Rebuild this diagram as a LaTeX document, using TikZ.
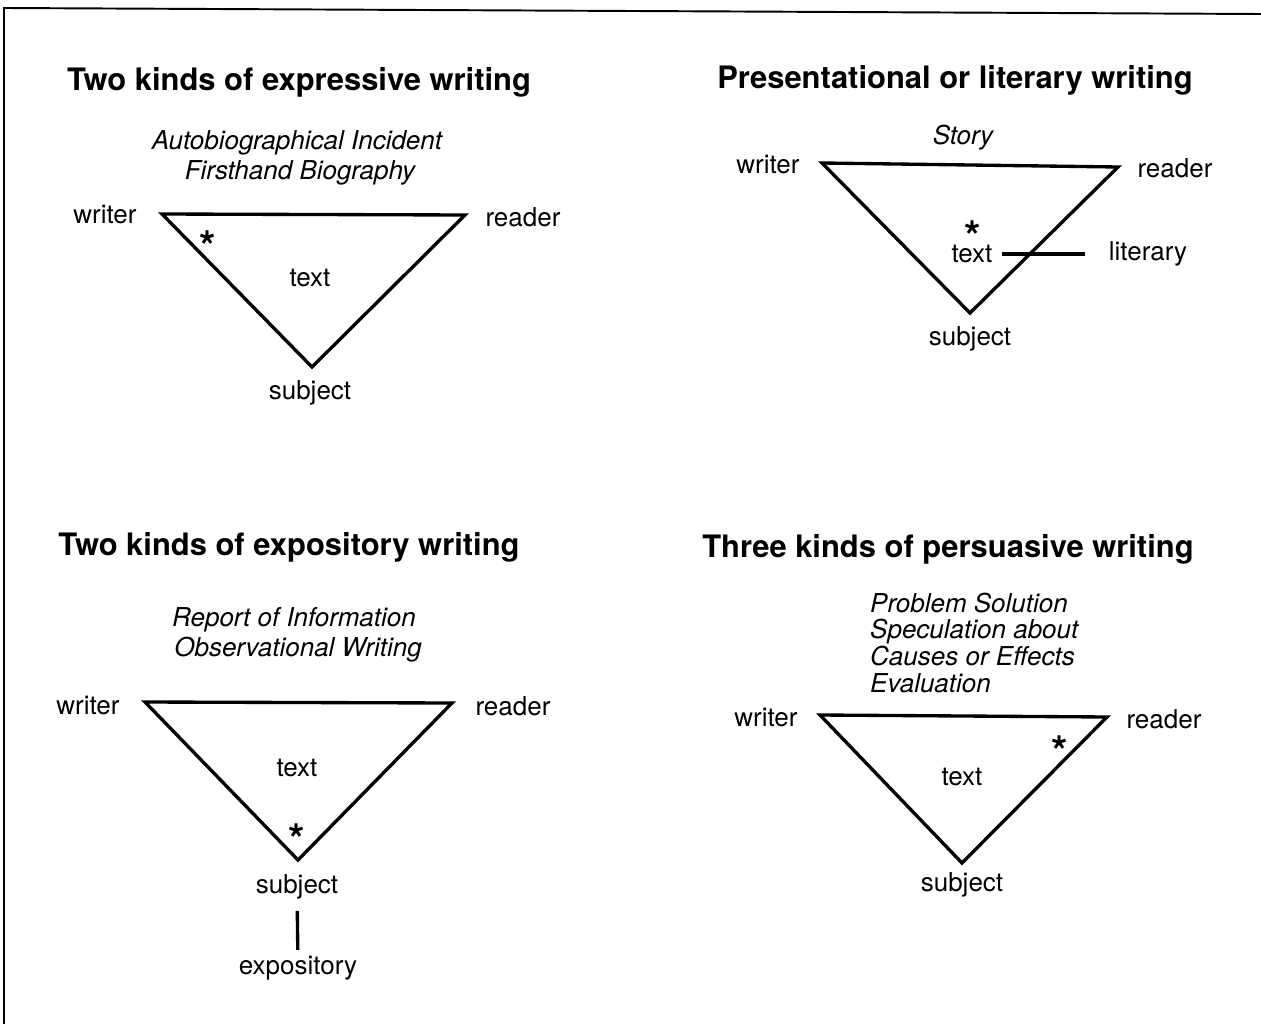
\documentclass[tikz,border=0pt]{standalone}
\usepackage{fontspec}
\setmainfont{TeX Gyre Heros}
\newcommand{\starmark}{\raisebox{-0.43em}[0.3em][0pt]{*}}
\begin{document}
\begin{tikzpicture}[x=0.02cm, y=-0.02cm,
    lbl/.style={font=\fontsize{14.8}{17}\selectfont},
    ital/.style={font=\itshape\fontsize{14.8}{17}\selectfont},
    ttl/.style={font=\bfseries\fontsize{17.6}{20}\selectfont},
    star/.style={font=\bfseries\fontsize{24}{24}\selectfont, inner sep=0pt},
    tri/.style={line width=1.9pt, line join=miter},
    conn/.style={line width=1.9pt}]
    \useasboundingbox (0,0) rectangle (1261,1024);
    % frame
    \draw[line width=1.1pt] (4,1024) -- (4,8) -- (1261,14);

    % expressive
    \node[ttl] (title1) at (299,82) {Two kinds of expressive writing};
    \node[ital] (kindA1) at (297,143) {Autobiographical Incident};
    \node[ital] (kindB1) at (300,173) {Firsthand Biography};
    \coordinate (w1) at (162,214); \coordinate (r1) at (465,215); \coordinate (s1) at (312,367);
    \draw[tri] (w1) -- (r1) -- (s1) -- cycle;
    \node[lbl] (writer1) at (105,215) {writer};
    \node[lbl] (reader1) at (523,217) {reader};
    \node[star] (star1) at (208,237) {\starmark};
    \node[lbl] (text1) at (310,278) {text};
    \node[lbl] (subject1) at (310,393) {subject};

    % literary
    \node[ttl] (title2) at (955,80) {Presentational or literary writing};
    \node[ital] (kind2) at (963,138) {Story};
    \coordinate (w2) at (822,163); \coordinate (r2) at (1118,167); \coordinate (s2) at (970,313);
    \draw[tri] (w2) -- (r2) -- (s2) -- cycle;
    \node[lbl] (writer2) at (768,165) {writer};
    \node[lbl] (reader2) at (1175,168) {reader};
    \node[star] (star2) at (973,227) {\starmark};
    \node[lbl] (text2) at (972,254) {text};
    \node[lbl] (lit2) at (1148,254) {literary};
    \node[lbl] (subject2) at (970,339) {subject};
    \draw[conn, shorten <=2pt, shorten >=10pt] (text2.east) -- (lit2.west);

    % expository
    \node[ttl] (title3) at (289,547) {Two kinds of expository writing};
    \node[ital] (kindA3) at (294,620) {Report of Information};
    \node[ital] (kindB3) at (298,650) {Observational Writing};
    \coordinate (w3) at (145,702); \coordinate (r3) at (452,703); \coordinate (s3) at (298,860);
    \draw[tri] (w3) -- (r3) -- (s3) -- cycle;
    \node[lbl] (writer3) at (88,705) {writer};
    \node[lbl] (reader3) at (513,706) {reader};
    \node[lbl] (text3) at (297,768) {text};
    \node[star] (star3) at (297,830) {\starmark};
    \node[lbl] (subject3) at (297,887) {subject};
    \node[lbl] (expo3) at (298,968) {expository};
    \draw[conn, shorten <=3pt] (subject3) -- (expo3);

    % persuasive
    \node[ttl] (title4) at (948,549) {Three kinds of persuasive writing};
    \node[ital, anchor=base west] (kindA4) at (864,612) {Problem Solution};
    \node[ital, anchor=base west] (kindB4) at (864,638) {Speculation about};
    \node[ital, anchor=base west] (kindC4) at (864,665) {Causes or Effects};
    \node[ital, anchor=base west] (kindD4) at (864,692) {Evaluation};
    \coordinate (w4) at (820,715); \coordinate (r4) at (1107,717); \coordinate (s4) at (962,863);
    \draw[tri] (w4) -- (r4) -- (s4) -- cycle;
    \node[lbl] (writer4) at (766,717) {writer};
    \node[lbl] (reader4) at (1164,719) {reader};
    \node[star] (star4) at (1060,742) {\starmark};
    \node[lbl] (text4) at (962,777) {text};
    \node[lbl] (subject4) at (962,885) {subject};
\end{tikzpicture}
\end{document}
